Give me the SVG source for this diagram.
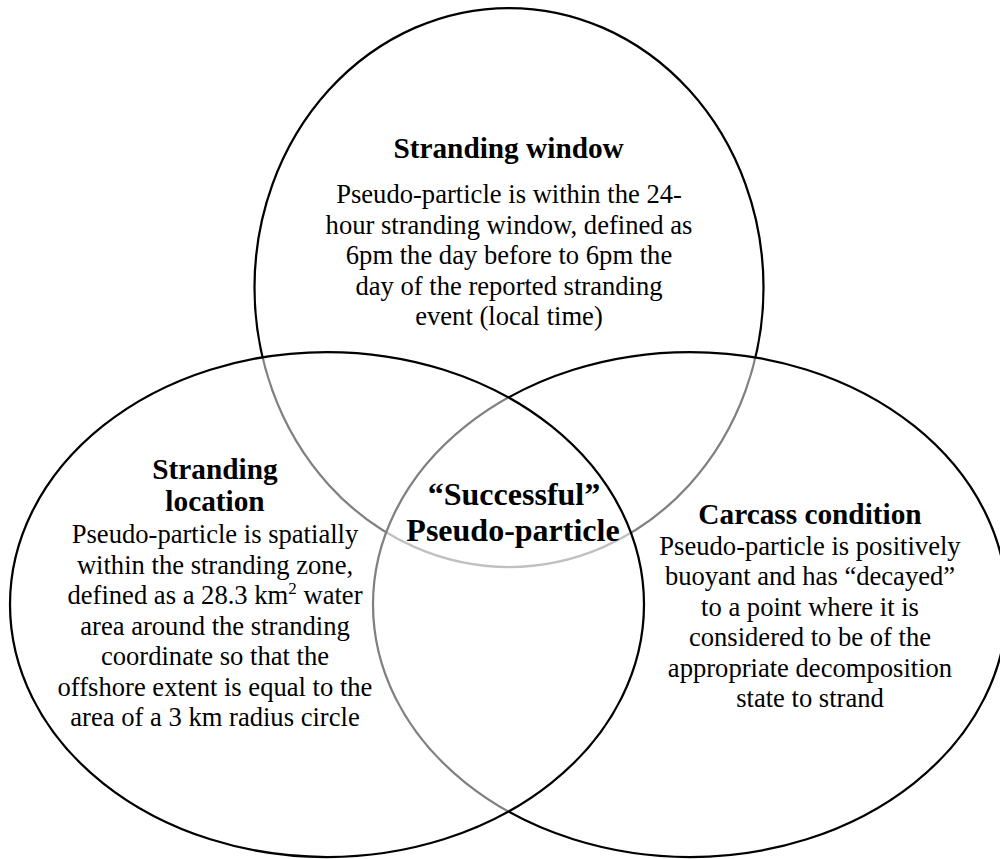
<svg xmlns="http://www.w3.org/2000/svg" width="1000" height="859" viewBox="0 0 1000 859">
<style>
.ring{fill:#ffffff;fill-opacity:0.5;stroke:#000000;stroke-width:2.25}
text{font-family:"Liberation Serif","Times New Roman",serif;fill:#000000;text-anchor:middle}
.title{font-size:29.3px;font-weight:bold}
.big{font-size:32px;font-weight:bold}
.body{font-size:26.6px}
.sup{font-size:17px}
</style>
<rect width="1000" height="859" fill="#ffffff"/>
<g id="connectors"/>
<g id="node-window">
<ellipse class="ring" cx="509" cy="287.5" rx="254.5" ry="279.5"/>
<text class="title" x="508.6" y="158.3">Stranding window</text>
<text class="body" x="509" y="203">Pseudo-particle is within the 24-</text>
<text class="body" x="509" y="233.5">hour stranding window, defined as</text>
<text class="body" x="509" y="264">6pm the day before to 6pm the</text>
<text class="body" x="509" y="294.5">day of the reported stranding</text>
<text class="body" x="509" y="325">event (local time)</text>
</g>
<g id="node-carcass">
<ellipse class="ring" cx="690" cy="604.5" rx="317" ry="252.5"/>
<text class="title" x="810" y="524">Carcass condition</text>
<text class="body" x="810" y="554.5">Pseudo-particle is positively</text>
<text class="body" x="810" y="585">buoyant and has “decayed”</text>
<text class="body" x="810" y="615.5">to a point where it is</text>
<text class="body" x="810" y="646">considered to be of the</text>
<text class="body" x="810" y="676.5">appropriate decomposition</text>
<text class="body" x="810" y="707">state to strand</text>
</g>
<g id="node-location">
<ellipse class="ring" cx="327" cy="604.5" rx="317" ry="252.5"/>
<text class="title" x="215" y="479">Stranding</text>
<text class="title" x="215" y="511">location</text>
<text class="body" x="215" y="543">Pseudo-particle is spatially</text>
<text class="body" x="215" y="573.5">within the stranding zone,</text>
<text class="body" x="215" y="604">defined as a 28.3 km<tspan class="sup" dy="-10">2</tspan><tspan dy="10"> water</tspan></text>
<text class="body" x="215" y="634.5">area around the stranding</text>
<text class="body" x="215" y="665">coordinate so that the</text>
<text class="body" x="215" y="695.5">offshore extent is equal to the</text>
<text class="body" x="215" y="726">area of a 3 km radius circle</text>
</g>
<g id="node-success">
<text class="big" x="514" y="505">“Successful”</text>
<text class="big" x="513" y="541">Pseudo-particle</text>
</g>
</svg>
